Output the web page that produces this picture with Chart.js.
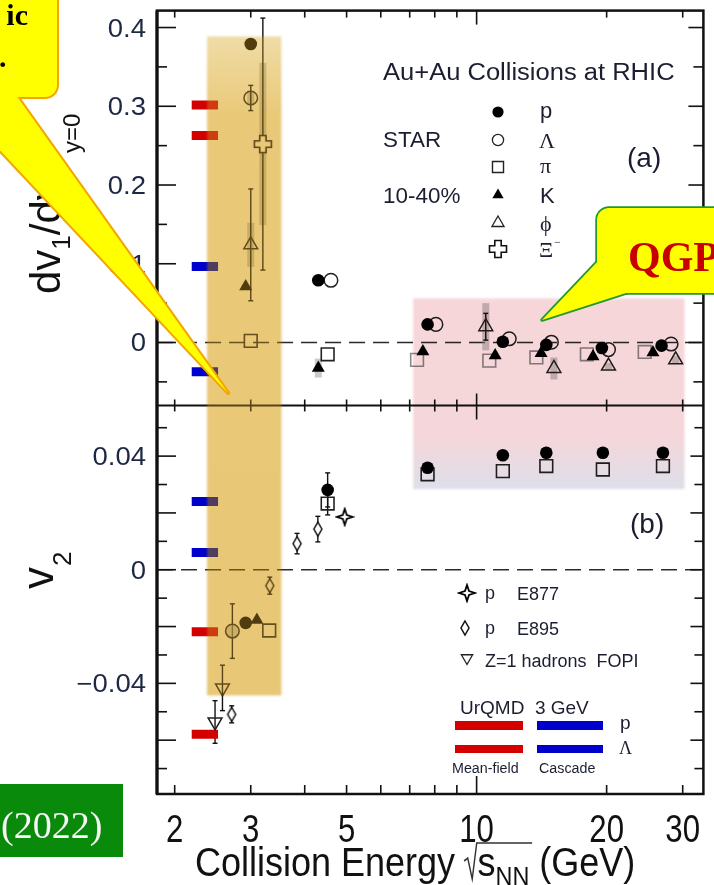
<!DOCTYPE html>
<html>
<head>
<meta charset="utf-8">
<script src="https://cdn.jsdelivr.net/npm/chart.js@4.4.1/dist/chart.umd.min.js"></script>
<style>
  html, body { margin: 0; padding: 0; background: #fff; }
  #wrap { width: 714px; height: 885px; }
</style>
</head>
<body>
<div id="wrap"><canvas id="flowChart" width="714" height="885"></canvas></div>
<script>
// ---- panel (a): dv1/dy at mid-rapidity, STAR 10-40% ----
const aProtonX = [3.0, 4.3, 7.7, 11.5, 14.5, 19.5, 26.8];
const aProtonY = [0.379, 0.079, 0.023, 0.001, -0.003, -0.007, -0.004];
const aProtonErr = [0.004, 0.003, 0.002, 0.002, 0.002, 0.002, 0.002];

const aLambdaX = [3.0, 4.6, 8.05, 11.9, 14.9, 20.2, 28.2];
const aLambdaY = [0.3105, 0.079, 0.023, 0.0047, 0.0004, -0.009, -0.002];
const aLambdaErr = [0.016, 0.004, 0.003, 0.004, 0.003, 0.003, 0.003];
const aLambdaSys = [0.0095, 0, 0, 0, 0, 0, 0];

const aPionX = [3.0, 4.52, 7.28, 10.7, 13.75, 18.0, 24.5];
const aPionY = [0.002, -0.015, -0.022, -0.023, -0.019, -0.015, -0.012];

const aKaonX = [2.92, 4.3, 7.51, 11.04, 14.1, 18.6, 25.6];
const aKaonY = [0.071, -0.0325, -0.0114, -0.0165, -0.0135, -0.0177, -0.0127];
const aKaonSys = [0, 0.012, 0, 0, 0, 0, 0];

const aPhiX = [3.0, 10.5, 15.1, 20.2, 28.9];
const aPhiY = [0.124, 0.020, -0.033, -0.030, -0.022];
const aPhiErr = [0.071, 0.017, 0.008, 0.005, 0.005];
const aPhiSys = [0.028, 0.030, 0.014, 0.004, 0.005];

const aXiX = [3.2];
const aXiY = [0.252];
const aXiErr = [0.16];
const aXiSys = [0.103];

// ---- panel (b): v2 ----
const bProtonX = [2.92, 4.52, 7.7, 11.5, 14.5, 19.6, 27.0];
const bProtonY = [-0.0187, 0.0281, 0.0359, 0.0403, 0.0412, 0.0412, 0.0412];
const bProtonErr = [0.0015, 0.006, 0.001, 0.001, 0.001, 0.001, 0.001];

const bPionX = [3.31, 4.52, 7.7, 11.5, 14.5, 19.6, 27.0];
const bPionY = [-0.0214, 0.0233, 0.0336, 0.0347, 0.0365, 0.0353, 0.0365];
const bPionErr = [0.001, 0.004, 0.001, 0.001, 0.001, 0.001, 0.001];

const bLambdaX = [2.72];
const bLambdaY = [-0.0216];
const bLambdaErr = [0.0096];

const bKaonX = [3.10];
const bKaonY = [-0.0177];

const e895X = [2.71, 3.32, 3.84, 4.29];
const e895Y = [-0.0509, -0.0056, 0.0092, 0.0143];
const e895Err = [0.003, 0.003, 0.0036, 0.0045];

const e877X = [4.95];
const e877Y = [0.0186];

const fopiX = [2.58, 2.48];
const fopiY = [-0.0416, -0.0536];
const fopiErr = [0.008, 0.0075];

// ---- UrQMD 3 GeV model values (p, Lambda) ----
const urqmdX = [2.19, 2.52];
const urqmdMeanFieldA = [0.3015, 0.263];
const urqmdCascadeA = [0.0966, -0.0373];
const urqmdMeanFieldB = [-0.0218, -0.0579];
const urqmdCascadeB = [0.024, 0.0061];

// ---- shaded energy regions ----
const fxtBandX = [2.378, 3.53];
const fxtBandY = [-0.0442, 0.3886];   // bottom in (b), top in (a)
const qgpBandX = [7.13, 30.3];
const qgpBandY = [0.0284, 0.056];     // bottom in (b), top in (a)

// ---- axes ----
const xMin = 1.82, xMax = 33.5;
const aMin = -0.08;                    // bottom edge of panel (a)
const xTickVals = [2, 3, 4, 5, 6, 7, 8, 9, 10, 20, 30];
const xTickLabels = [2, 3, 5, 10, 20, 30];
const aTickLabels = [0, 0.1, 0.2, 0.3, 0.4];
const aTickText = ['0', '0.1', '0.2', '0.3', '0.4'];
const bTickLabels = [-0.04, 0, 0.04];
const bTickText = ['\u22120.04', '0', '0.04'];

const SANS = '"Liberation Sans", Arial, Helvetica, sans-serif';
const SERIF = '"Liberation Serif", "Times New Roman", serif';
const INK = '#1b1e30';

// custom marker shapes
function makeMarker(w, h, draw) {
  const c = document.createElement('canvas');
  c.width = w; c.height = h;
  draw(c.getContext('2d'), w / 2, h / 2);
  return c;
}
const xiMarker = makeMarker(22, 22, (g, cx, cy) => {
  const a = 3.2, L = 8.5;
  g.beginPath();
  g.moveTo(cx - a, cy - L); g.lineTo(cx + a, cy - L); g.lineTo(cx + a, cy - a); g.lineTo(cx + L, cy - a);
  g.lineTo(cx + L, cy + a); g.lineTo(cx + a, cy + a); g.lineTo(cx + a, cy + L); g.lineTo(cx - a, cy + L);
  g.lineTo(cx - a, cy + a); g.lineTo(cx - L, cy + a); g.lineTo(cx - L, cy - a); g.lineTo(cx - a, cy - a);
  g.closePath();
  g.fillStyle = '#fff'; g.fill();
  g.lineWidth = 1.6; g.strokeStyle = '#111'; g.stroke();
});
const starMarker = makeMarker(20, 20, (g, cx, cy) => {
  const R = 8, r = 2;
  g.beginPath();
  g.moveTo(cx, cy - R); g.lineTo(cx + r, cy - r); g.lineTo(cx + R, cy); g.lineTo(cx + r, cy + r);
  g.lineTo(cx, cy + R); g.lineTo(cx - r, cy + r); g.lineTo(cx - R, cy); g.lineTo(cx - r, cy - r);
  g.closePath();
  g.fillStyle = '#fff'; g.fill();
  g.lineWidth = 1.8; g.strokeStyle = '#000'; g.stroke();
});
const diamondMarker = makeMarker(12, 18, (g, cx, cy) => {
  g.beginPath();
  g.moveTo(cx, cy - 7); g.lineTo(cx + 4, cy); g.lineTo(cx, cy + 7); g.lineTo(cx - 4, cy);
  g.closePath();
  g.fillStyle = '#fff'; g.fill();
  g.lineWidth = 1.5; g.strokeStyle = '#111'; g.stroke();
});

const filledCircle = { pointStyle: 'circle', pointRadius: 6.3, pointBackgroundColor: '#000', pointBorderColor: '#000', pointBorderWidth: 0, order: 1 };
const openCircle = { pointStyle: 'circle', pointRadius: 6.8, pointBackgroundColor: 'rgba(255,255,255,0)', pointBorderColor: '#222', pointBorderWidth: 1.5, order: 2 };
const openSquare = { pointStyle: 'rect', pointRadius: 9, pointBackgroundColor: 'rgba(255,255,255,0)', pointBorderColor: '#222', pointBorderWidth: 1.6, order: 3 };
const filledTriangle = { pointStyle: 'triangle', pointRadius: 7.5, pointBackgroundColor: '#000', pointBorderColor: '#000', pointBorderWidth: 0, order: 1 };
const openTriangle = { pointStyle: 'triangle', pointRadius: 8, pointBackgroundColor: 'rgba(255,255,255,0)', pointBorderColor: '#222', pointBorderWidth: 1.5, order: 2 };

function pts(xs, ys) { return xs.map((x, i) => ({ x: x, y: ys[i] })); }

function series(label, axis, xs, ys, style, extra) {
  return Object.assign({ label: label, yAxisID: axis, data: pts(xs, ys), showLine: false }, style, extra || {});
}

function modelBar(label, axis, value, color) {
  return {
    label: label, yAxisID: axis, data: pts(urqmdX, [value, value]),
    showLine: true, borderColor: color, borderWidth: 9, borderCapStyle: 'butt',
    pointRadius: 0, order: 5
  };
}

const datasets = [
  series('p', 'ya', aProtonX, aProtonY, filledCircle, { err: aProtonErr }),
  series('\u039b', 'ya', aLambdaX, aLambdaY, openCircle, { err: aLambdaErr, sys: aLambdaSys }),
  series('\u03c0', 'ya', aPionX, aPionY, openSquare, { pointBorderColor: ['#222', '#222', '#8a8a8a', '#8a8a8a', '#8a8a8a', '#8a8a8a', '#8a8a8a'] }),
  series('K', 'ya', aKaonX, aKaonY, filledTriangle, { sys: aKaonSys }),
  series('\u03d5', 'ya', aPhiX, aPhiY, openTriangle, { err: aPhiErr, sys: aPhiSys }),
  series('\u039e', 'ya', aXiX, aXiY, { pointStyle: xiMarker, pointRadius: 9, order: 2 }, { err: aXiErr, sys: aXiSys }),

  series('p v2', 'yb', bProtonX, bProtonY, filledCircle, { err: bProtonErr }),
  series('\u03c0 v2', 'yb', bPionX, bPionY, openSquare, { err: bPionErr }),
  series('\u039b v2', 'yb', bLambdaX, bLambdaY, openCircle, { err: bLambdaErr, pointBackgroundColor: 'rgba(175,175,175,0.55)' }),
  series('K v2', 'yb', bKaonX, bKaonY, filledTriangle),
  series('E895', 'yb', e895X, e895Y, { pointStyle: diamondMarker, pointRadius: 7, order: 2 }, { err: e895Err }),
  series('E877', 'yb', e877X, e877Y, { pointStyle: starMarker, pointRadius: 8, order: 2 }),
  series('FOPI', 'yb', fopiX, fopiY, openTriangle, { err: fopiErr, pointRotation: 180, pointBackgroundColor: 'rgba(255,255,255,0)' }),

  modelBar('UrQMD mean-field p (a)', 'ya', urqmdMeanFieldA[0], '#d40000'),
  modelBar('UrQMD mean-field \u039b (a)', 'ya', urqmdMeanFieldA[1], '#d40000'),
  modelBar('UrQMD cascade p (a)', 'ya', urqmdCascadeA[0], '#0000cc'),
  modelBar('UrQMD cascade \u039b (a)', 'ya', urqmdCascadeA[1], '#0000cc'),
  modelBar('UrQMD mean-field p (b)', 'yb', urqmdMeanFieldB[0], '#d40000'),
  modelBar('UrQMD mean-field \u039b (b)', 'yb', urqmdMeanFieldB[1], '#d40000'),
  modelBar('UrQMD cascade p (b)', 'yb', urqmdCascadeB[0], '#0000cc'),
  modelBar('UrQMD cascade \u039b (b)', 'yb', urqmdCascadeB[1], '#0000cc')
];

function line(ctx, x0, y0, x1, y1) {
  ctx.beginPath(); ctx.moveTo(x0, y0); ctx.lineTo(x1, y1); ctx.stroke();
}

function text(ctx, s, x, y, font, color, align, sx) {
  ctx.save();
  ctx.font = font; ctx.fillStyle = color;
  ctx.textAlign = align || 'left'; ctx.textBaseline = 'alphabetic';
  ctx.translate(x, y); ctx.scale(sx || 1, 1);
  ctx.fillText(s, 0, 0);
  ctx.restore();
}

// systematic boxes and statistical error bars, under the markers
const errorBarPlugin = {
  id: 'errorBars',
  beforeDatasetsDraw(chart) {
    const ctx = chart.ctx;
    const a = chart.chartArea;
    ctx.save();
    // dashed zero lines
    ctx.setLineDash([16, 8]);
    ctx.strokeStyle = '#2b2b2b'; ctx.lineWidth = 1.6;
    ['ya', 'yb'].forEach(id => {
      const y = chart.scales[id].getPixelForValue(0);
      line(ctx, a.left, y, a.right, y);
    });
    ctx.setLineDash([]);
    chart.data.datasets.forEach((ds, i) => {
      const meta = chart.getDatasetMeta(i);
      const ys = chart.scales[ds.yAxisID];
      if (ds.sys) {
        ctx.fillStyle = 'rgba(150,150,150,0.5)';
        ds.sys.forEach((s, j) => {
          if (!s) return;
          const p = meta.data[j];
          const t = ys.getPixelForValue(ds.data[j].y + s), b = ys.getPixelForValue(ds.data[j].y - s);
          ctx.fillRect(p.x - 3.5, t, 7, b - t);
        });
      }
      if (ds.err) {
        ctx.strokeStyle = '#111'; ctx.lineWidth = 1.4;
        ds.err.forEach((e, j) => {
          const p = meta.data[j];
          const t = ys.getPixelForValue(ds.data[j].y + e), b = ys.getPixelForValue(ds.data[j].y - e);
          // bars shorter than the marker stay hidden behind it
          if ((b - t) / 2 < 8) return;
          line(ctx, p.x, t, p.x, b);
          line(ctx, p.x - 2.5, t, p.x + 2.5, t);
          line(ctx, p.x - 2.5, b, p.x + 2.5, b);
        });
      }
    });
    ctx.restore();
  }
};

function drawFrame(chart) {
  const { ctx, chartArea: a, scales } = chart;
  const xs = scales.x, ya = scales.ya, yb = scales.yb;
  const sep = ya.getPixelForValue(aMin);
  ctx.save();
  ctx.strokeStyle = '#111';
  ctx.lineWidth = 2.5;
  ctx.strokeRect(a.left, a.top, a.right - a.left, a.bottom - a.top);
  ctx.lineWidth = 3.2;
  line(ctx, a.left, a.top, a.left, a.bottom);
  ctx.lineWidth = 2;
  line(ctx, a.left, sep, a.right, sep);

  // x ticks: top, separator, bottom
  ctx.lineWidth = 1.6;
  xTickVals.forEach(v => {
    const x = xs.getPixelForValue(v);
    const major = v === 10;
    line(ctx, x, a.top, x, a.top + (major ? 14 : 7));
    line(ctx, x, sep - (major ? 12 : 6), x, sep + (major ? 14 : 6));
    line(ctx, x, a.bottom, x, a.bottom - (major ? 18 : 9));
  });

  // y ticks of panel (a): every 0.05, major every 0.1
  for (let k = -1; k <= 8; k++) {
    const y = ya.getPixelForValue(k * 0.05);
    const major = k % 2 === 0;
    line(ctx, a.left, y, a.left + (major ? 19 : 10), y);
    line(ctx, a.right, y, a.right - (major ? 15 : 10), y);
  }
  // y ticks of panel (b): every 0.01, major every 0.02
  for (let k = -7; k <= 5; k++) {
    const y = yb.getPixelForValue(k * 0.01);
    const major = k % 2 === 0;
    line(ctx, a.left, y, a.left + (major ? 19 : 10), y);
    line(ctx, a.right, y, a.right - (major ? 13 : 9), y);
  }
  ctx.restore();
}

function bandBox(chart, bx, by) {
  const xs = chart.scales.x;
  const l = xs.getPixelForValue(bx[0]), r = xs.getPixelForValue(bx[1]);
  const t = chart.scales.ya.getPixelForValue(by[1]);
  const b = chart.scales.yb.getPixelForValue(by[0]);
  return { l: l, r: r, t: t, b: b };
}

function drawBands(chart) {
  const ctx = chart.ctx;
  ctx.save();
  // low-energy (fixed-target) band: tint multiplied over the marks, then a warm wash
  let k = bandBox(chart, fxtBandX, fxtBandY);
  ctx.filter = 'blur(0.8px)';
  ctx.globalCompositeOperation = 'multiply';
  let g = ctx.createLinearGradient(0, k.t, 0, k.b);
  g.addColorStop(0, 'rgb(246,246,232)');
  g.addColorStop(0.12, 'rgb(236,217,162)');
  g.addColorStop(1, 'rgb(234,216,160)');
  ctx.fillStyle = g;
  ctx.fillRect(k.l, k.t, k.r - k.l, k.b - k.t);
  ctx.globalCompositeOperation = 'source-over';
  ctx.globalAlpha = 0.35;
  ctx.fillStyle = 'rgb(229,171,43)';
  ctx.fillRect(k.l, k.t, k.r - k.l, k.b - k.t);
  ctx.globalAlpha = 1;

  // high-energy band: pink fading to lavender at the bottom
  k = bandBox(chart, qgpBandX, qgpBandY);
  ctx.globalCompositeOperation = 'multiply';
  g = ctx.createLinearGradient(0, k.t, 0, k.b);
  g.addColorStop(0, 'rgb(246,214,217)');
  g.addColorStop(0.72, 'rgb(245,214,218)');
  g.addColorStop(1, 'rgb(222,223,234)');
  ctx.fillStyle = g;
  ctx.fillRect(k.l, k.t, k.r - k.l, k.b - k.t);
  ctx.restore();
}

function drawAxisText(chart) {
  const { ctx, chartArea: a, scales } = chart;
  const xs = scales.x, ya = scales.ya, yb = scales.yb;
  const tickFont = '25px ' + SANS, tickInk = '#1e2844';
  aTickLabels.forEach((v, i) => text(ctx, aTickText[i], 146, ya.getPixelForValue(v) + 9, tickFont, tickInk, 'right', 1.1));
  bTickLabels.forEach((v, i) => text(ctx, bTickText[i], 146, yb.getPixelForValue(v) + 9, tickFont, tickInk, 'right', 1.1));
  xTickLabels.forEach(v => text(ctx, String(v), xs.getPixelForValue(v), 842, '38px ' + SANS, '#111', 'center', 0.82));

  // x title: Collision Energy sqrt(s_NN) (GeV)
  ctx.save();
  ctx.translate(195, 876);
  ctx.scale(0.9, 1);
  ctx.fillStyle = '#111';
  ctx.font = '40px ' + SANS;
  let x = 0;
  ctx.fillText('Collision Energy', x, 0);
  x += ctx.measureText('Collision Energy').width + 10;
  const rx = x;
  x += 15;
  ctx.fillText('s', x, 0);
  x += ctx.measureText('s').width;
  ctx.font = '26px ' + SANS;
  ctx.fillText('NN', x, 9);
  x += ctx.measureText('NN').width + 3;
  ctx.strokeStyle = '#333'; ctx.lineWidth = 1.6;
  ctx.beginPath();
  ctx.moveTo(rx, -15); ctx.lineTo(rx + 4, -18); ctx.lineTo(rx + 9, 3); ctx.lineTo(rx + 14, -33); ctx.lineTo(x, -33);
  ctx.stroke();
  ctx.font = '40px ' + SANS;
  ctx.fillText('(GeV)', x + 8, 0);
  ctx.restore();

  // y title, panel (a)
  ctx.save();
  ctx.translate(60, 294);
  ctx.rotate(-Math.PI / 2);
  ctx.fillStyle = '#111';
  ctx.font = '42px ' + SANS;
  let t = 0;
  ctx.fillText('dv', t, 0); t += ctx.measureText('dv').width;
  ctx.font = '26px ' + SANS;
  ctx.fillText('1', t, 10); t += ctx.measureText('1').width;
  ctx.font = '42px ' + SANS;
  ctx.fillText('/dy', t, 0);
  ctx.font = '24px ' + SANS;
  ctx.fillText('y=0', 141, 20);
  ctx.restore();

  // y title, panel (b)
  ctx.save();
  ctx.translate(53, 589);
  ctx.rotate(-Math.PI / 2);
  ctx.fillStyle = '#111';
  ctx.font = '44px ' + SANS;
  ctx.fillText('v', 0, 0);
  const vw = ctx.measureText('v').width;
  ctx.font = '26px ' + SANS;
  ctx.fillText('2', vw + 1, 18);
  ctx.restore();
}

function legendMarker(ctx, style, x, y) {
  ctx.save();
  ctx.fillStyle = style.pointBackgroundColor || '#000';
  ctx.strokeStyle = style.pointBorderColor || '#000';
  ctx.lineWidth = style.pointBorderWidth || 0;
  Chart.helpers.drawPoint(ctx, {
    pointStyle: style.pointStyle, radius: style.radius || style.pointRadius,
    rotation: style.rotation || 0, borderWidth: style.pointBorderWidth || 0
  }, x, y);
  ctx.restore();
}

function drawLegends(chart) {
  const ctx = chart.ctx;
  const f22 = '22px ' + SANS;
  text(ctx, 'Au+Au Collisions at RHIC', 383, 80, '23px ' + SANS, INK, 'left', 1.11);
  text(ctx, 'STAR', 383, 147, f22, INK, 'left', 1.02);
  text(ctx, '10-40%', 383, 203, f22, INK, 'left', 1.02);
  text(ctx, '(a)', 627, 167, '28px ' + SANS, INK, 'left', 1);
  text(ctx, '(b)', 630, 533, '28px ' + SANS, INK, 'left', 1);

  const rows = [112, 140, 167, 195, 223, 249];
  const syms = [
    Object.assign({}, filledCircle, { radius: 5.6 }),
    Object.assign({}, openCircle, { radius: 5.6, pointBorderWidth: 1.3 }),
    Object.assign({}, openSquare, { radius: 7.8, pointBorderWidth: 1.4 }),
    Object.assign({}, filledTriangle, { radius: 6.5 }),
    Object.assign({}, openTriangle, { radius: 7, pointBorderWidth: 1.3 }),
    { pointStyle: xiMarker }
  ];
  syms.forEach((s, i) => legendMarker(ctx, s, 498, rows[i]));
  text(ctx, 'p', 540, rows[0] + 6, f22, INK);
  text(ctx, '\u039b', 539, rows[1] + 8, '22px ' + SERIF, INK);
  text(ctx, '\u03c0', 540, rows[2] + 6, '22px ' + SERIF, INK);
  text(ctx, 'K', 540, rows[3] + 8, f22, INK);
  text(ctx, '\u03d5', 540, rows[4] + 8, '22px ' + SERIF, INK);
  text(ctx, '\u039e', 539, rows[5] + 8, '22px ' + SERIF, INK);
  text(ctx, '\u2212', 554, rows[5] - 3, '12px ' + SERIF, INK);

  // lower legend
  const f18 = '18px ' + SANS;
  legendMarker(ctx, { pointStyle: starMarker }, 467, 593);
  text(ctx, 'p', 485, 599, f18, INK); text(ctx, 'E877', 517, 600, f18, INK);
  legendMarker(ctx, { pointStyle: diamondMarker }, 465, 628);
  text(ctx, 'p', 485, 634, f18, INK); text(ctx, 'E895', 517, 635, f18, INK);
  legendMarker(ctx, Object.assign({}, openTriangle, { radius: 6.5, rotation: 180, pointBorderWidth: 1.3 }), 467, 658);
  text(ctx, 'Z=1 hadrons  FOPI', 485, 667, f18, INK);
  text(ctx, 'UrQMD  3 GeV', 460, 714, '19px ' + SANS, INK);

  ctx.save();
  ctx.fillStyle = '#d40000';
  ctx.fillRect(455, 721, 68, 9); ctx.fillRect(455, 745, 68, 8);
  ctx.fillStyle = '#0000cc';
  ctx.fillRect(537, 721, 66, 9); ctx.fillRect(537, 745, 66, 8);
  ctx.restore();
  text(ctx, 'p', 620, 729, '19px ' + SANS, INK);
  text(ctx, '\u039b', 619, 754, '18px ' + SERIF, INK);
  text(ctx, 'Mean-field', 452, 773, '14px ' + SANS, INK, 'left', 1.02);
  text(ctx, 'Cascade', 539, 773, '14px ' + SANS, INK, 'left', 1.02);
}

function drawCallouts(chart) {
  const ctx = chart.ctx;
  ctx.save();
  ctx.lineJoin = 'round';

  // yellow callout in the top-left corner
  const box = new Path2D();
  box.roundRect(-30, -30, 87, 127, 12);
  const tail = new Path2D();
  tail.moveTo(16, 95); tail.lineTo(228, 393); tail.lineTo(-52, 95); tail.closePath();
  ctx.strokeStyle = '#f3a600'; ctx.lineWidth = 4;
  ctx.stroke(box); ctx.stroke(tail);
  ctx.fillStyle = '#ffff00';
  ctx.fill(box); ctx.fill(tail);
  text(ctx, 'ic', 28, 25, 'bold 30px ' + SERIF, '#000', 'right');
  text(ctx, '.', -1, 67, 'bold 30px ' + SERIF, '#000', 'left');

  // QGP callout on the right
  const qbox = new Path2D();
  qbox.roundRect(597, 208, 150, 85, 12);
  const qtail = new Path2D();
  qtail.moveTo(599, 260); qtail.lineTo(542, 320); qtail.lineTo(626, 293); qtail.closePath();
  ctx.strokeStyle = '#22992a'; ctx.lineWidth = 3.5;
  ctx.stroke(qbox); ctx.stroke(qtail);
  ctx.fillStyle = '#ffff00';
  ctx.fill(qbox); ctx.fill(qtail);
  text(ctx, 'QGP', 628, 271, 'bold 42px ' + SERIF, '#c80000', 'left');

  // green reference box, bottom-left
  ctx.fillStyle = '#0a8a0a';
  ctx.fillRect(-5, 784, 128, 73);
  text(ctx, '(2022)', 1, 838, '38px ' + SERIF, '#f6f6f6', 'left');
  ctx.restore();
}

const decorPlugin = {
  id: 'decor',
  beforeDraw(chart) {
    const ctx = chart.ctx;
    ctx.save();
    ctx.fillStyle = '#fff';
    ctx.fillRect(0, 0, chart.width, chart.height);
    ctx.restore();
  },
  afterDatasetsDraw(chart) {
    drawFrame(chart);
    drawBands(chart);
    drawAxisText(chart);
    drawLegends(chart);
    drawCallouts(chart);
  }
};

new Chart(document.getElementById('flowChart').getContext('2d'), {
  type: 'scatter',
  data: { datasets: datasets },
  options: {
    responsive: false,
    animation: false,
    events: [],
    layout: { padding: { left: 157, right: 3, top: 8, bottom: 91 } },
    plugins: { legend: { display: false }, tooltip: { enabled: false } },
    scales: {
      x: { type: 'logarithmic', min: xMin, max: xMax, display: false },
      // both panels share the full plot height; each scale maps its own panel
      ya: { type: 'linear', axis: 'y', position: 'left', min: -0.5734, max: 0.4215, display: false },
      yb: { type: 'linear', axis: 'y', position: 'left', min: -0.07895, max: 0.19684, display: false }
    }
  },
  plugins: [errorBarPlugin, decorPlugin]
});
</script>
</body>
</html>
